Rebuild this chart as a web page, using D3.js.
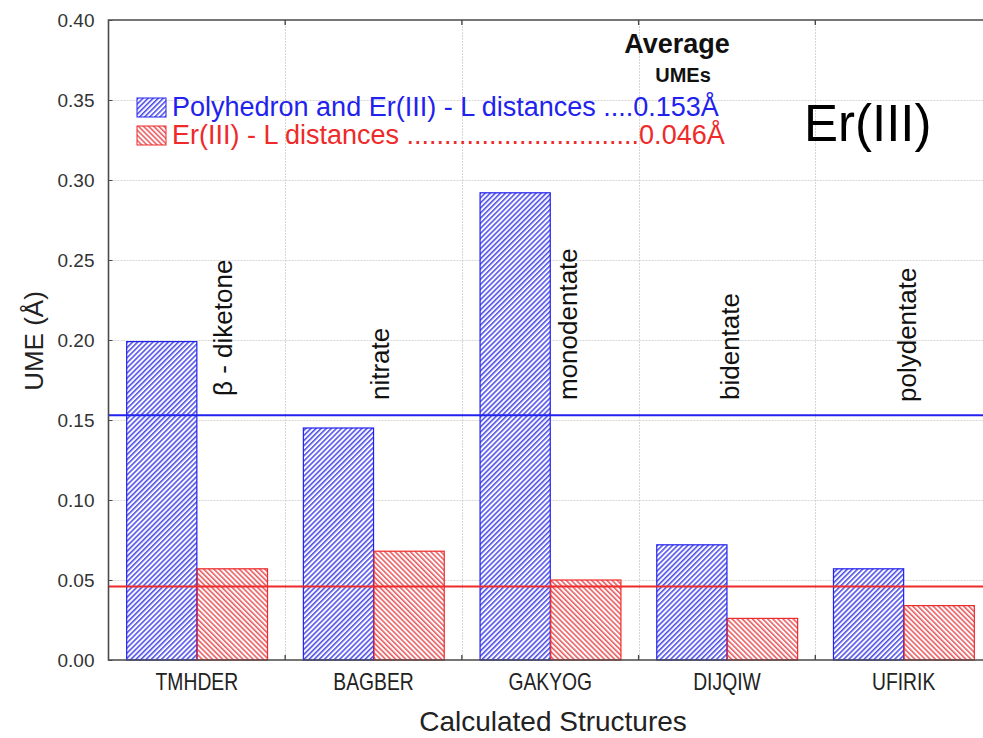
<!DOCTYPE html>
<html>
<head>
<meta charset="utf-8">
<script src="https://cdn.jsdelivr.net/npm/d3@7"></script>
<style>
  body { margin: 0; background: #fff; }
  svg { display: block; }
</style>
</head>
<body>
<svg id="chart" width="983" height="738"></svg>
<script>
// ---- data ----
const structures = ["TMHDER", "BAGBER", "GAKYOG", "DIJQIW", "UFIRIK"];
const ligandTypes = ["β - diketone", "nitrate", "monodentate", "bidentate", "polydentate"];
const polyhedronUME = [0.199, 0.145, 0.292, 0.072, 0.057];
const distanceUME = [0.057, 0.068, 0.050, 0.026, 0.034];
const averageUME = [0.153, 0.046];
const seriesLabels = [
  "Polyhedron and Er(III) - L distances ....0.153Å",
  "Er(III) - L distances ...............................0.046Å"
];
const yTickValues = [0.00, 0.05, 0.10, 0.15, 0.20, 0.25, 0.30, 0.35, 0.40];
const ionLabel = "Er(III)";
const xTitle = "Calculated Structures";
const yTitle = "UME (Å)";

// ---- layout ----
const W = 983, H = 738;
const plot = { left: 108.5, right: 992, top: 20, bottom: 660 };
const seriesColors = ["#2222ee", "#ee2a2a"];
const stripeColors = ["#3c3ce6", "#e84a4a"];
const labelShift = [26, 6, 18, 3, 3];        // horizontal nudge of each ligand-type label from its group centre
const labelBase = [396, 400, 400, 400, 402]; // lower end of each ligand-type label

const svg = d3.select("#chart");
const font = "'Liberation Sans', Arial, sans-serif";

// hatch patterns: "///" for the first series, "\\\" for the second
const defs = svg.append("defs");
[45, -45].forEach((angle, i) => {
  const p = defs.append("pattern")
    .attr("id", "hatch" + i)
    .attr("patternUnits", "userSpaceOnUse")
    .attr("width", 3.6).attr("height", 3.6)
    .attr("patternTransform", `rotate(${angle})`);
  p.append("rect").attr("width", 3.6).attr("height", 3.6).attr("fill", "#fbfbff");
  p.append("line").attr("x1", 0.8).attr("y1", 0).attr("x2", 0.8).attr("y2", 3.6)
    .attr("stroke", stripeColors[i]).attr("stroke-width", 1.4);
});

const x = d3.scaleBand().domain(structures)
  .range([plot.left, plot.right]).paddingInner(0.2).paddingOuter(0.1);
const xs = d3.scaleBand().domain([0, 1]).range([0, x.bandwidth()]);
const y = d3.scaleLinear().domain([0, 0.40]).range([plot.bottom, plot.top]);

// grid
const grid = svg.append("g").attr("stroke", "#d6d6d6").attr("stroke-width", 1)
  .attr("stroke-dasharray", "2,1");
grid.selectAll("line.h").data(yTickValues.filter(v => v > 0 && v < 0.40)).join("line")
  .attr("x1", plot.left).attr("x2", W)
  .attr("y1", d => Math.round(y(d)) + 0.5).attr("y2", d => Math.round(y(d)) + 0.5);
const boundaries = structures.slice(0, -1).map(d => x(d) + x.bandwidth() + x.step() * x.paddingInner() / 2);
grid.selectAll("line.v").data(boundaries).join("line")
  .attr("x1", d => Math.round(d) + 0.5).attr("x2", d => Math.round(d) + 0.5)
  .attr("y1", plot.top).attr("y2", plot.bottom);

// bars
const series = [polyhedronUME, distanceUME];
series.forEach((vals, s) => {
  svg.append("g").selectAll("rect").data(structures).join("rect")
    .attr("x", d => x(d) + xs(s) + 0.5)
    .attr("y", (d, i) => y(vals[i]))
    .attr("width", xs.bandwidth() - 0.5)
    .attr("height", (d, i) => y(0) - y(vals[i]))
    .attr("fill", `url(#hatch${s})`)
    .attr("stroke", seriesColors[s]).attr("stroke-width", 1.2);
});

// average lines
averageUME.forEach((v, s) => {
  svg.append("line")
    .attr("x1", plot.left).attr("x2", W)
    .attr("y1", y(v)).attr("y2", y(v))
    .attr("stroke", seriesColors[s]).attr("stroke-width", 2);
});

// frame and axes
const frame = svg.append("g").attr("stroke", "#4a4a4a").attr("stroke-width", 1.6).attr("fill", "none");
frame.append("path").attr("d", `M${W},${plot.top}H${plot.left}V${plot.bottom}H${W}`);

const yAxis = d3.axisLeft(y).tickValues(yTickValues).tickFormat(d3.format(".2f")).tickSize(-4).tickPadding(14);
const gy = svg.append("g").attr("transform", `translate(${plot.left},0)`).call(yAxis);
gy.select(".domain").remove();
gy.selectAll(".tick line").attr("stroke", "#4a4a4a");
gy.selectAll(".tick text").attr("font-family", font).attr("font-size", 19).attr("fill", "#333");

// category labels (tall, condensed type)
const xAxis = d3.axisBottom(x).tickSize(0).tickPadding(0);
const gx = svg.append("g").attr("transform", `translate(0,${plot.bottom})`).call(xAxis);
gx.select(".domain").remove();
gx.selectAll(".tick text")
  .attr("font-family", font).attr("font-size", 23).attr("fill", "#222")
  .attr("dy", null).attr("y", null)
  .attr("transform", "translate(0,30) scale(0.84,1)");
svg.append("g").selectAll("line").data(boundaries).join("line")
  .attr("x1", d => d).attr("x2", d => d)
  .attr("y1", plot.bottom).attr("y2", plot.bottom - 5)
  .attr("stroke", "#4a4a4a").attr("stroke-width", 1.4);
svg.append("g").selectAll("line").data(boundaries).join("line")
  .attr("x1", d => d).attr("x2", d => d)
  .attr("y1", plot.top).attr("y2", plot.top + 5)
  .attr("stroke", "#4a4a4a").attr("stroke-width", 1.4);

// axis titles
svg.append("text").attr("x", 553).attr("y", 731).attr("text-anchor", "middle")
  .attr("font-family", font).attr("font-size", 28).attr("fill", "#222").text(xTitle);
svg.append("text").attr("transform", "translate(43,341) rotate(-90)").attr("text-anchor", "middle")
  .attr("font-family", font).attr("font-size", 26).attr("fill", "#222").text(yTitle);

// ligand-type labels, written upwards beside each group
svg.append("g").selectAll("text").data(structures).join("text")
  .attr("transform", (d, i) => `translate(${x(d) + x.bandwidth() / 2 + labelShift[i] + 9},${labelBase[i]}) rotate(-90)`)
  .attr("font-family", font).attr("font-size", 26).attr("fill", "#111")
  .text((d, i) => ligandTypes[i]);

// legend
svg.append("text").attr("x", 677).attr("y", 53).attr("text-anchor", "middle")
  .attr("font-family", font).attr("font-size", 27).attr("font-weight", "bold").attr("fill", "#111").text("Average");
svg.append("text").attr("x", 683).attr("y", 82).attr("text-anchor", "middle")
  .attr("font-family", font).attr("font-size", 20).attr("font-weight", "bold").attr("fill", "#111").text("UMEs");
const legend = svg.append("g").selectAll("g").data(seriesLabels).join("g")
  .attr("transform", (d, i) => `translate(137,${98 + i * 28})`);
legend.append("rect").attr("width", 29).attr("height", 19)
  .attr("fill", (d, i) => `url(#hatch${i})`)
  .attr("stroke", (d, i) => seriesColors[i]).attr("stroke-width", 1);
legend.append("text").attr("x", 35).attr("y", 18)
  .attr("font-family", font).attr("font-size", 27)
  .attr("fill", (d, i) => seriesColors[i]).text(d => d);

svg.append("text").attr("x", 804).attr("y", 141)
  .attr("font-family", font).attr("font-size", 51).attr("fill", "#000").text(ionLabel);
</script>
</body>
</html>
